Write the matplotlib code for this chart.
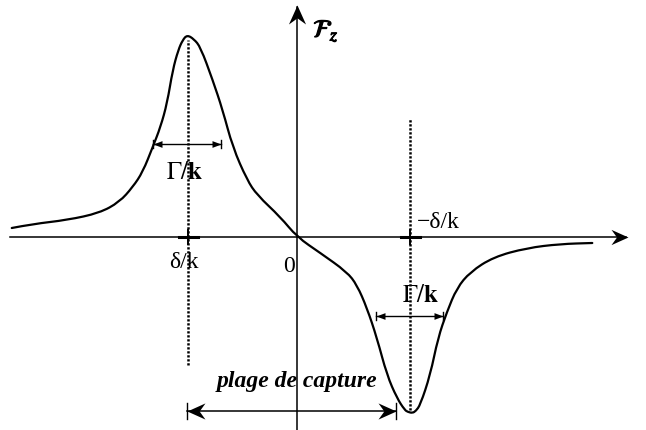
import matplotlib
matplotlib.use("Agg")
import matplotlib.pyplot as plt
import matplotlib.patheffects as pe
from matplotlib.markers import MarkerStyle
from matplotlib.path import Path
from matplotlib.patches import PathPatch
from matplotlib.transforms import Affine2D

plt.rcParams["font.family"] = ["Liberation Serif", "DejaVu Serif"]
plt.rcParams["mathtext.fontset"] = "stix"

# velocity in units of |delta|/k, force in arbitrary units
vel = [-2.57, -2.38, -2.07, -1.78, -1.60, -1.48, -1.39, -1.30, -1.23, -1.17,
       -1.12, -1.07, -1.03, -0.99, -0.93, -0.87, -0.76, -0.67, -0.58, -0.45,
       -0.36, -0.15, 0.0, 0.21, 0.45, 0.54, 0.63, 0.72, 0.81, 0.90,
       0.97, 1.00, 1.04, 1.07, 1.11, 1.20, 1.27, 1.35, 1.44, 1.56,
       1.77, 2.07, 2.37, 2.66]
force = [0.045, 0.065, 0.085, 0.12, 0.175, 0.25, 0.325, 0.45, 0.55, 0.67,
         0.835, 0.935, 0.985, 1.01, 0.99, 0.95, 0.785, 0.635, 0.45, 0.285,
         0.21, 0.10, 0.0, -0.08, -0.175, -0.24, -0.355, -0.505, -0.69, -0.805,
         -0.865, -0.875, -0.88, -0.87, -0.84, -0.69, -0.505, -0.375, -0.255, -0.175,
         -0.10, -0.055, -0.035, -0.03]

resonances = [-0.98, 1.02]          # +delta/k and -delta/k
resonance_labels = ["δ/k", "−δ/k"]
width_rows = [0.465, -0.395]        # heights of the Gamma/k markers
width_spans = [(-1.30, -0.685), (0.71, 1.315)]
capture_span = (-0.99, 0.89)

X0, X1 = -2.676, 3.144
Y0, Y1 = -0.965, 1.185

fig = plt.figure(figsize=(6.46, 4.30), dpi=100)
ax = fig.add_axes([0, 0, 1, 1])
ax.set_xlim(X0, X1)
ax.set_ylim(Y0, Y1)
ax.axis("off")

STEALTH = Path([(0, 0), (-2, 0.9), (-1.35, 0), (-2, -0.9), (0, 0)],
               [Path.MOVETO, Path.LINETO, Path.LINETO, Path.LINETO, Path.CLOSEPOLY])
TRI = Path([(0, 0), (-2, 0.75), (-2, -0.75), (0, 0)],
           [Path.MOVETO, Path.LINETO, Path.LINETO, Path.CLOSEPOLY])


def head(x, y, angle, length_px, shape=STEALTH):
    """Arrow head with its tip on (x, y)."""
    ms = 2 * length_px * 72 / 100
    m = MarkerStyle(shape, transform=Affine2D().rotate_deg(angle))
    ax.plot([x], [y], marker=m, ms=ms, color="black", mew=0, zorder=5)


def smooth_path(xs, ys):
    """Quadratic Bezier path using the samples as control points."""
    pts = list(zip(xs, ys))
    verts = [pts[0]]
    codes = [Path.MOVETO]
    for i in range(1, len(pts) - 1):
        mid = ((pts[i][0] + pts[i + 1][0]) / 2, (pts[i][1] + pts[i + 1][1]) / 2)
        verts += [pts[i], mid]
        codes += [Path.CURVE3, Path.CURVE3]
    verts.append(pts[-1])
    codes.append(Path.LINETO)
    return Path(verts, codes)


# coordinate axes
ax.plot([-2.59, 2.96], [0, 0], color="black", lw=1.1)
head(2.98, 0, 0, 17)
ax.plot([0, 0], [Y0, 1.15], color="black", lw=1.1)
head(0, 1.16, 90, 19)

# force curve
ax.add_patch(PathPatch(smooth_path(vel, force), fill=False, edgecolor="black",
                       lw=1.6, joinstyle="round", capstyle="round", zorder=4))

# resonance positions
tops = [0.985, 0.595]
bottoms = [-0.64, -0.865]
for v, top, bot in zip(resonances, tops, bottoms):
    ax.plot([v, v], [bot, top], color="black", lw=1.8, linestyle=(0, (0.9, 0.7)))
    ax.plot([v - 0.085, v + 0.085], [0, 0], color="black", lw=2.2)
    ax.plot([v, v], [-0.035, 0.035], color="black", lw=1.4)

ax.text(resonances[0] - 0.04, -0.125, resonance_labels[0], fontsize=17,
        ha="center", va="center")
ax.text(resonances[1] + 0.25, 0.07, resonance_labels[1], fontsize=17,
        ha="center", va="center")
ax.text(-0.072, -0.15, "0", fontsize=17, ha="center", va="center")

# linewidth markers Gamma/k
for yrow, (a, b) in zip(width_rows, width_spans):
    ax.plot([a, b], [yrow, yrow], color="black", lw=1.0)
    head(a, yrow, 180, 9, TRI)
    head(b, yrow, 0, 9, TRI)
    ax.plot([b, b], [yrow - 0.022, yrow + 0.022], color="black", lw=1.0)
    ax.plot([a, a], [yrow - 0.022, yrow + 0.022], color="black", lw=1.0)

ax.text(-1.01, 0.32, r"$\Gamma/\mathbf{k}$", fontsize=18, ha="center", va="center")
ax.text(1.11, -0.295, r"$\Gamma/\mathbf{k}$", fontsize=18, ha="center", va="center")

# capture range
ca, cb = capture_span
ax.plot([ca, cb], [-0.87, -0.87], color="black", lw=1.1)
head(ca, -0.87, 180, 18)
head(cb, -0.87, 0, 18)
for c in capture_span:
    ax.plot([c, c], [-0.83, -0.91], color="black", lw=1.0)
ax.text(0.0, -0.72, "plage de capture", fontsize=17, fontweight="bold",
        fontstyle="italic", ha="center", va="center")

# force axis label
ax.text(0.26, 1.03, r"$\mathcal{F}_z$", fontsize=18, ha="center", va="center",
        path_effects=[pe.withStroke(linewidth=0.9, foreground="black")])

fig.savefig("out.png", dpi=100)
